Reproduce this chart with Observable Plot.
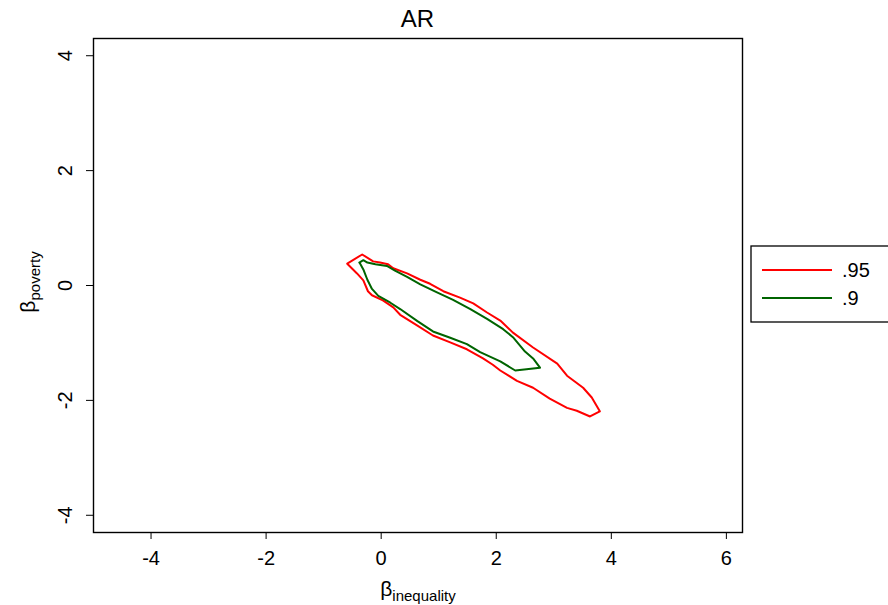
<!DOCTYPE html>
<html>
<head>
<meta charset="utf-8">
<script src="https://cdn.jsdelivr.net/npm/d3@7"></script>
<script src="https://cdn.jsdelivr.net/npm/@observablehq/plot@0.6"></script>
<style>
  html, body { margin: 0; padding: 0; background: #fff; }
  #chart { width: 888px; height: 605px; overflow: hidden; }
</style>
</head>
<body>
<div id="chart"></div>
<script>
// ---- data ----
const title = "AR";
const xTicks = [-4, -2, 0, 2, 4, 6];
const yTicks = [-4, -2, 0, 2, 4];
const levels = [".95", ".9"];
const levelColors = ["#ff0000", "#006400"];

// 95% region boundary
const redX = [-0.59, -0.33, -0.14, -0.02, 0.12, 0.21, 0.45, 0.68, 0.85, 1.08, 1.37, 1.60, 1.84, 2.07, 2.29, 2.64, 3.06, 3.23, 3.51, 3.66, 3.80, 3.63, 3.40, 3.23, 2.93, 2.64, 2.36, 2.07, 1.94, 1.77, 1.49, 1.20, 0.90, 0.63, 0.33, 0.21, 0.03, -0.16, -0.23, -0.31, -0.42];
const redY = [0.38, 0.54, 0.42, 0.40, 0.37, 0.30, 0.21, 0.10, 0.03, -0.10, -0.21, -0.31, -0.47, -0.61, -0.82, -1.08, -1.36, -1.57, -1.78, -1.95, -2.19, -2.28, -2.18, -2.13, -1.97, -1.78, -1.66, -1.48, -1.38, -1.27, -1.11, -0.99, -0.87, -0.70, -0.51, -0.38, -0.26, -0.17, -0.10, 0.09, 0.21];

// 90% region boundary
const greenX = [-0.38, -0.31, -0.24, -0.10, 0.10, 0.24, 0.45, 0.68, 0.97, 1.25, 1.55, 1.84, 2.12, 2.29, 2.50, 2.64, 2.76, 2.33, 2.07, 1.72, 1.49, 1.20, 0.90, 0.63, 0.33, 0.16, -0.05, -0.16, -0.24, -0.31, -0.36];
const greenY = [0.40, 0.44, 0.40, 0.37, 0.34, 0.26, 0.15, 0.02, -0.12, -0.25, -0.41, -0.58, -0.76, -0.90, -1.15, -1.27, -1.43, -1.48, -1.32, -1.16, -1.02, -0.91, -0.80, -0.62, -0.41, -0.30, -0.18, -0.06, 0.10, 0.28, 0.37];

// ---- build table ----
const rows = [];
redX.forEach((x, i) => rows.push({level: levels[0], x, y: redY[i]}));
greenX.forEach((x, i) => rows.push({level: levels[1], x, y: greenY[i]}));

const font = "'Liberation Sans', Arial, Helvetica, sans-serif";

const chart = Plot.plot({
  width: 888,
  height: 605,
  marginLeft: 93,
  marginRight: 146,
  marginTop: 38,
  marginBottom: 73,
  style: {fontFamily: font, fontSize: "20px", background: "#fff", overflow: "visible"},
  x: {domain: [-5, 6.28], label: null},
  y: {domain: [-4.3, 4.3], label: null},
  color: {domain: levels, range: levelColors},
  marks: [
    Plot.line(rows, {x: "x", y: "y", z: "level", stroke: "level", strokeWidth: 2, curve: "linear-closed"}),
    Plot.frame({stroke: "#000", strokeWidth: 1.4}),
    Plot.axisX(xTicks, {tickSize: 7, tickPadding: 11, fontSize: 20, tickFormat: d => String(d), label: null, stroke: "#000", fill: "#000"}),
    Plot.axisY(yTicks, {tickSize: 7, text: null, label: null, stroke: "#000"}),
    Plot.text(yTicks, {y: d => d, frameAnchor: "left", dx: -28, rotate: -90, text: d => String(d), textAnchor: "middle", fontSize: 20, fill: "#000"})
  ]
});

document.getElementById("chart").appendChild(chart);

// ---- title, axis titles with subscripts, and legend ----
const svg = d3.select(chart);
svg.append("text")
  .attr("x", 417.5).attr("y", 27)
  .style("text-anchor", "middle").style("font-family", font).style("font-size", "24px")
  .attr("fill", "#000").text(title);

const xt = svg.append("text")
  .attr("x", 418).attr("y", 596)
  .style("text-anchor", "middle").style("font-family", font)
  .attr("fill", "#000");
xt.append("tspan").style("font-size", "21px").text("β");
xt.append("tspan").style("font-size", "15px").attr("dy", 5).text("inequality");

const yt = svg.append("text")
  .attr("transform", "translate(35,282) rotate(-90)")
  .style("text-anchor", "middle").style("font-family", font)
  .attr("fill", "#000");
yt.append("tspan").style("font-size", "21px").text("β");
yt.append("tspan").style("font-size", "15px").attr("dy", 5).text("poverty");

const lg = svg.append("g");
lg.append("rect").attr("x", 751).attr("y", 246).attr("width", 160).attr("height", 76)
  .attr("fill", "#fff").attr("stroke", "#000").attr("stroke-width", 1.3);
levels.forEach((lev, i) => {
  const yy = 270 + i * 28;
  lg.append("line").attr("x1", 762).attr("x2", 832).attr("y1", yy).attr("y2", yy)
    .attr("stroke", levelColors[i]).attr("stroke-width", 2);
  lg.append("text").attr("x", 842).attr("y", yy + 7)
    .style("text-anchor", "start").style("font-family", font).style("font-size", "20px")
    .attr("fill", "#000").text(lev);
});
</script>
</body>
</html>
